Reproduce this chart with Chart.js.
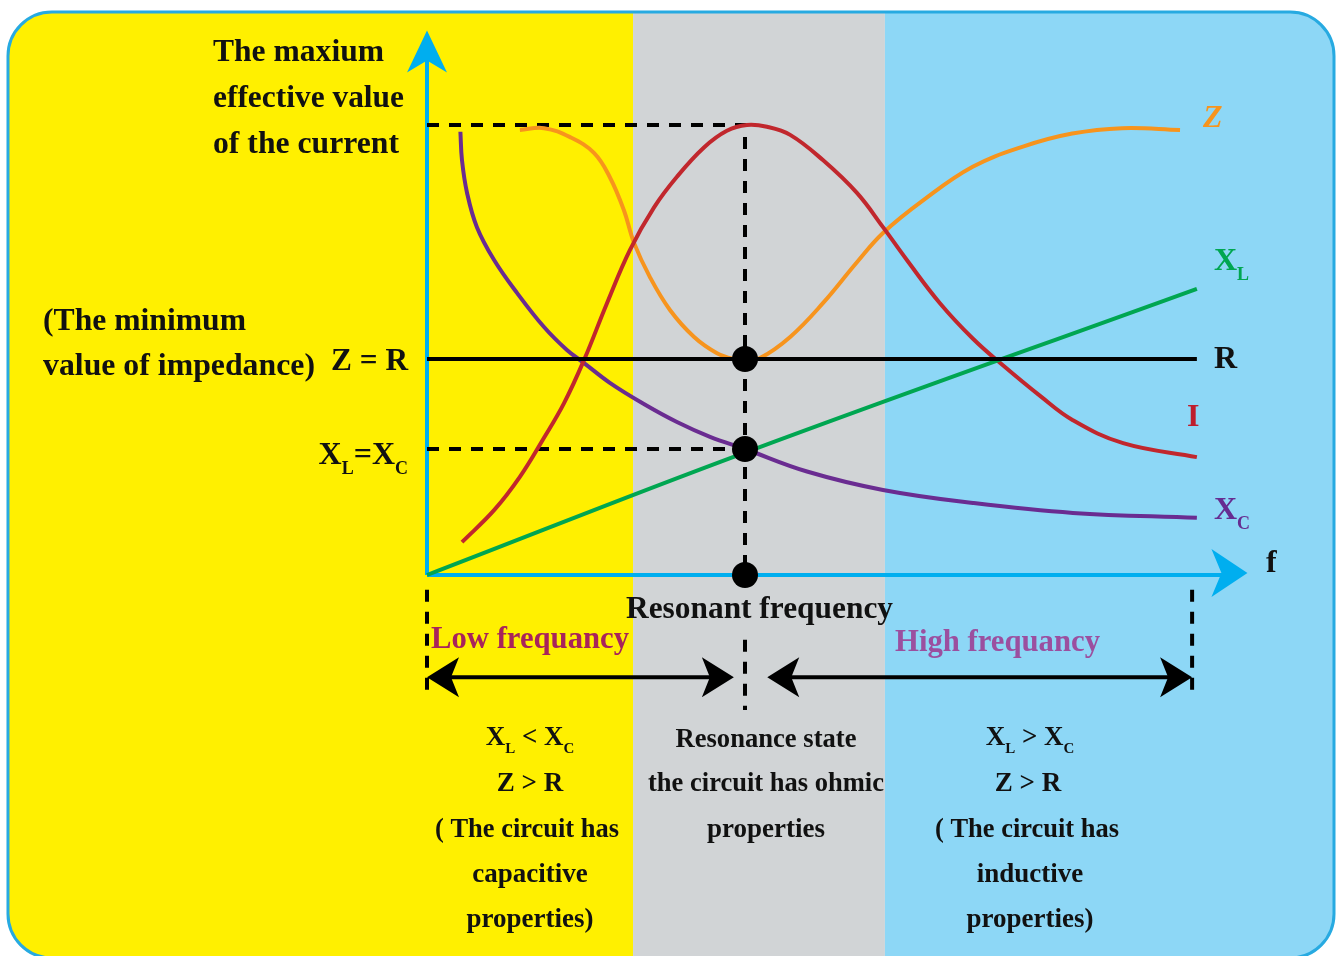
<!DOCTYPE html>
<html><head><meta charset="utf-8">
<script src="https://cdn.jsdelivr.net/npm/chart.js@4.4.1/dist/chart.umd.min.js"></script>
<style>html,body{margin:0;padding:0;background:#fff;overflow:hidden}#wrap{width:1343px;height:956px;position:relative}</style>
</head><body><div id="wrap"><canvas id="c" width="1343" height="956"></canvas></div>
<script>
// ---- data (abstract units: f axis 0..26, value axis 0..12; resonance at f = 10) ----
const resonanceF = 10;
const maxCurrent = 10;
const minImpedance = 4.8;   // Z = R
const reactanceEqual = 2.8; // XL = XC
const lowBandEnd = 6.48;
const highBandStart = 14.4;
const bandMarkF = 24.06;

const xcF = [1.05, 1.10, 1.26, 1.57, 2.11, 2.83, 3.68, 4.40, 4.94, 5.75, 6.82, 7.86, 8.90, 10.0, 11.95, 14.34, 17.17, 20.31, 24.21];
const xcV = [9.85, 9.22, 8.49, 7.73, 7.00, 6.27, 5.51, 5.00, 4.71, 4.27, 3.80, 3.40, 3.07, 2.80, 2.30, 1.89, 1.60, 1.38, 1.27];

const zF = [2.92, 3.68, 4.50, 5.25, 5.75, 6.19, 6.51, 7.01, 7.64, 8.40, 9.12, 9.65, 10.0, 10.47, 11.42, 12.45, 13.52, 14.34, 15.61, 17.16, 18.74, 20.29, 21.86, 23.68];
const zV = [9.89, 9.93, 9.73, 9.38, 8.84, 8.11, 7.38, 6.62, 5.89, 5.29, 4.93, 4.80, 4.78, 4.82, 5.29, 6.04, 6.95, 7.60, 8.33, 9.07, 9.52, 9.81, 9.93, 9.89];

const iF = [1.10, 2.11, 2.92, 3.68, 4.31, 4.94, 5.66, 6.38, 7.14, 7.86, 8.71, 9.43, 10.06, 10.69, 11.42, 12.45, 13.52, 14.34, 15.09, 16.13, 17.17, 18.11, 19.28, 20.31, 21.89, 24.21];
const iV = [0.73, 1.44, 2.18, 3.05, 3.82, 4.78, 6.04, 7.22, 8.17, 8.85, 9.50, 9.87, 10.0, 9.96, 9.78, 9.22, 8.49, 7.73, 7.00, 6.04, 5.25, 4.66, 3.98, 3.44, 2.93, 2.62];

const xlF = [0, 10, 24.21];
const xlV = [0, 2.72, 6.36];

const rF = [0, 24.21];
const rV = [4.8, 4.8];

const pts = (xs, ys) => xs.map((x, k) => ({x, y: ys[k]}));

const FONT = '"Liberation Serif","Times New Roman",serif';
function txt(ctx, s, x, y, size, color, align, maxW, italic) {
  ctx.save();
  ctx.font = (italic ? 'italic ' : '') + 'bold ' + size + 'px ' + FONT;
  ctx.fillStyle = color; ctx.textAlign = align || 'left'; ctx.textBaseline = 'middle';
  if (maxW) ctx.fillText(s, x, y, maxW); else ctx.fillText(s, x, y);
  ctx.restore();
}
function subTxt(ctx, parts, x, y, size, color, align) {
  ctx.save();
  ctx.fillStyle = color; ctx.textBaseline = 'middle'; ctx.textAlign = 'left';
  const ss = Math.round(size * 0.55);
  let total = 0;
  parts.forEach(p => { ctx.font = 'bold ' + (p.sub ? ss : size) + 'px ' + FONT; p.w = ctx.measureText(p.t).width; total += p.w; });
  let cx = align === 'center' ? x - total / 2 : (align === 'right' ? x - total : x);
  parts.forEach(p => {
    ctx.font = 'bold ' + (p.sub ? ss : size) + 'px ' + FONT;
    ctx.fillText(p.t, cx, p.sub ? y + size * 0.42 : y);
    cx += p.w;
  });
  ctx.restore();
}
function arrowHead(ctx, tx, ty, dx, dy, len, half, notch) {
  const nx = -dy, ny = dx;
  const bx = tx - dx * len, by = ty - dy * len;
  ctx.beginPath();
  ctx.moveTo(tx, ty);
  ctx.lineTo(bx + nx * half, by + ny * half);
  ctx.lineTo(tx - dx * (len - notch), ty - dy * (len - notch));
  ctx.lineTo(bx - nx * half, by - ny * half);
  ctx.closePath(); ctx.fill();
}

const decor = {
  id: 'decor',
  beforeDraw(chart) {
    const ctx = chart.ctx, xs = chart.scales.x;
    const W = chart.width;
    const L = 8, T = 12, R = 1334, B = 958, rad = 44;
    ctx.save();
    ctx.beginPath();
    ctx.roundRect(L, T, R - L, B - T, rad);
    ctx.save(); ctx.clip();
    const a = xs.getPixelForValue(lowBandEnd), b = xs.getPixelForValue(highBandStart);
    ctx.fillStyle = '#fff000'; ctx.fillRect(0, 0, a, 956);
    ctx.fillStyle = '#d1d4d6'; ctx.fillRect(a, 0, b - a, 956);
    ctx.fillStyle = '#8dd7f6'; ctx.fillRect(b, 0, W - b, 956);
    ctx.restore();
    ctx.lineWidth = 3; ctx.strokeStyle = '#27aae1';
    ctx.stroke();
    ctx.restore();
  },
  beforeDatasetsDraw(chart) {
    const ctx = chart.ctx, xs = chart.scales.x, ys = chart.scales.y;
    const x0 = xs.getPixelForValue(0), y0 = ys.getPixelForValue(0);
    const yTop = ys.getPixelForValue(12.1), xEnd = xs.getPixelForValue(25.8);
    ctx.save();
    ctx.strokeStyle = '#00aeef'; ctx.fillStyle = '#00aeef'; ctx.lineWidth = 4;
    ctx.beginPath(); ctx.moveTo(x0, y0); ctx.lineTo(x0, yTop + 20); ctx.stroke();
    ctx.beginPath(); ctx.moveTo(x0, y0); ctx.lineTo(xEnd - 20, y0); ctx.stroke();
    arrowHead(ctx, x0, yTop, 0, -1, 42, 20, 12);
    arrowHead(ctx, xEnd, y0 - 2, 1, 0, 36, 24, 10);
    ctx.restore();
  },
  afterDraw(chart) {
    const ctx = chart.ctx, xs = chart.scales.x, ys = chart.scales.y;
    const yA = ys.getPixelForValue(-2.27);
    const l1 = xs.getPixelForValue(0), r1 = xs.getPixelForValue(9.65);
    const l2 = xs.getPixelForValue(10.7), r2 = xs.getPixelForValue(bandMarkF);
    ctx.save();
    ctx.strokeStyle = '#000'; ctx.fillStyle = '#000'; ctx.lineWidth = 4;
    ctx.beginPath(); ctx.moveTo(l1 + 20, yA); ctx.lineTo(r1 - 20, yA); ctx.stroke();
    ctx.beginPath(); ctx.moveTo(l2 + 20, yA); ctx.lineTo(r2 - 20, yA); ctx.stroke();
    arrowHead(ctx, l1, yA, -1, 0, 32, 20, 8);
    arrowHead(ctx, r1, yA, 1, 0, 32, 20, 8);
    arrowHead(ctx, l2, yA, -1, 0, 32, 20, 8);
    arrowHead(ctx, r2, yA, 1, 0, 32, 20, 8);
    ctx.restore();

    const K = '#111';
    txt(ctx, 'The maxium', 213, 53, 32, K, 'left', 171);
    txt(ctx, 'effective value', 213, 99, 32, K, 'left', 191);
    txt(ctx, 'of the current', 213, 145, 32, K, 'left', 186);
    txt(ctx, '(The minimum', 43, 322, 32, K, 'left', 203);
    txt(ctx, 'value of impedance)', 43, 367, 32, K, 'left', 272);
    txt(ctx, 'Z = R', 331, 362, 32, K, 'left', 77);
    subTxt(ctx, [{t:'X'},{t:'L',sub:true},{t:'='},{t:'X'},{t:'C',sub:true}], 408, 456, 32, K, 'right');

    txt(ctx, 'Z', 1203, 119, 32, '#f7941d', 'left', null, true);
    subTxt(ctx, [{t:'X'},{t:'L',sub:true}], 1214, 262, 32, '#00a651', 'left');
    txt(ctx, 'R', 1214, 360, 32, K, 'left');
    txt(ctx, 'I', 1187, 418, 32, '#be1e2d', 'left');
    subTxt(ctx, [{t:'X'},{t:'C',sub:true}], 1214, 511, 32, '#662d91', 'left');
    txt(ctx, 'f', 1266, 564, 32, K, 'left');

    txt(ctx, 'Resonant frequency', 626, 610, 32, K, 'left', 267);
    txt(ctx, 'Low frequancy', 431, 640, 32, '#a8235b', 'left', 198);
    txt(ctx, 'High frequancy', 895, 643, 32, '#9b4f9f', 'left', 205);

    const S = 27;
    subTxt(ctx, [{t:'X'},{t:'L',sub:true},{t:' < '},{t:'X'},{t:'C',sub:true}], 530, 738, S, K, 'center');
    txt(ctx, 'Z > R', 530, 784, S, K, 'center');
    txt(ctx, '( The circuit has', 527, 830, S, K, 'center', 184);
    txt(ctx, 'capacitive', 530, 875, S, K, 'center');
    txt(ctx, 'properties)', 530, 920, S, K, 'center');

    txt(ctx, 'Resonance state', 766, 740, S, K, 'center', 181);
    txt(ctx, 'the circuit has ohmic', 766, 784, S, K, 'center', 236);
    txt(ctx, 'properties', 766, 830, S, K, 'center');

    subTxt(ctx, [{t:'X'},{t:'L',sub:true},{t:' > '},{t:'X'},{t:'C',sub:true}], 1030, 738, S, K, 'center');
    txt(ctx, 'Z > R', 1028, 784, S, K, 'center');
    txt(ctx, '( The circuit has', 1027, 830, S, K, 'center', 184);
    txt(ctx, 'inductive', 1030, 875, S, K, 'center');
    txt(ctx, 'properties)', 1030, 920, S, K, 'center');
  }
};

const curve = (label, data, color) => ({
  label, data, borderColor: color, borderWidth: 4, pointRadius: 0,
  tension: 0.4, fill: false, clip: false, borderCapStyle: 'butt'
});
const dash = (label, data) => ({
  label, data, borderColor: '#000', borderWidth: 4, borderDash: [12, 10],
  pointRadius: 0, tension: 0, fill: false, clip: false
});

new Chart(document.getElementById('c'), {
  type: 'line',
  data: {
    datasets: [
      { label: 'marks', data: [{x: resonanceF, y: minImpedance}, {x: resonanceF, y: reactanceEqual}, {x: resonanceF, y: 0}],
        showLine: false, pointRadius: 13, pointHoverRadius: 13, pointBackgroundColor: '#000', pointBorderWidth: 0, clip: false },
      curve('R', pts(rF, rV), '#000'),
      curve('XL', pts(xlF, xlV), '#00a651'),
      curve('I', pts(iF, iV), '#c1272d'),
      curve('Z', pts(zF, zV), '#f7941d'),
      curve('XC', pts(xcF, xcV), '#6a2c91'),
      dash('maxI', [{x: 0, y: maxCurrent}, {x: resonanceF, y: maxCurrent}, {x: resonanceF, y: 0}]),
      dash('eq', [{x: 0, y: reactanceEqual}, {x: resonanceF, y: reactanceEqual}]),
      dash('resBelow', [{x: resonanceF, y: -1.44}, {x: resonanceF, y: -3.0}]),
      dash('lowMark', [{x: 0, y: -0.33}, {x: 0, y: -2.67}]),
      dash('highMark', [{x: bandMarkF, y: -0.33}, {x: bandMarkF, y: -2.67}])
    ]
  },
  options: {
    responsive: false, animation: false, devicePixelRatio: 1,
    layout: { padding: { left: 427, right: 89.2, top: 35, bottom: 381 } },
    scales: {
      x: { type: 'linear', min: 0, max: 26, display: false },
      y: { type: 'linear', min: 0, max: 12, display: false }
    },
    plugins: { legend: { display: false }, tooltip: { enabled: false }, title: { display: false } },
    events: []
  },
  plugins: [decor]
});
</script></body></html>
